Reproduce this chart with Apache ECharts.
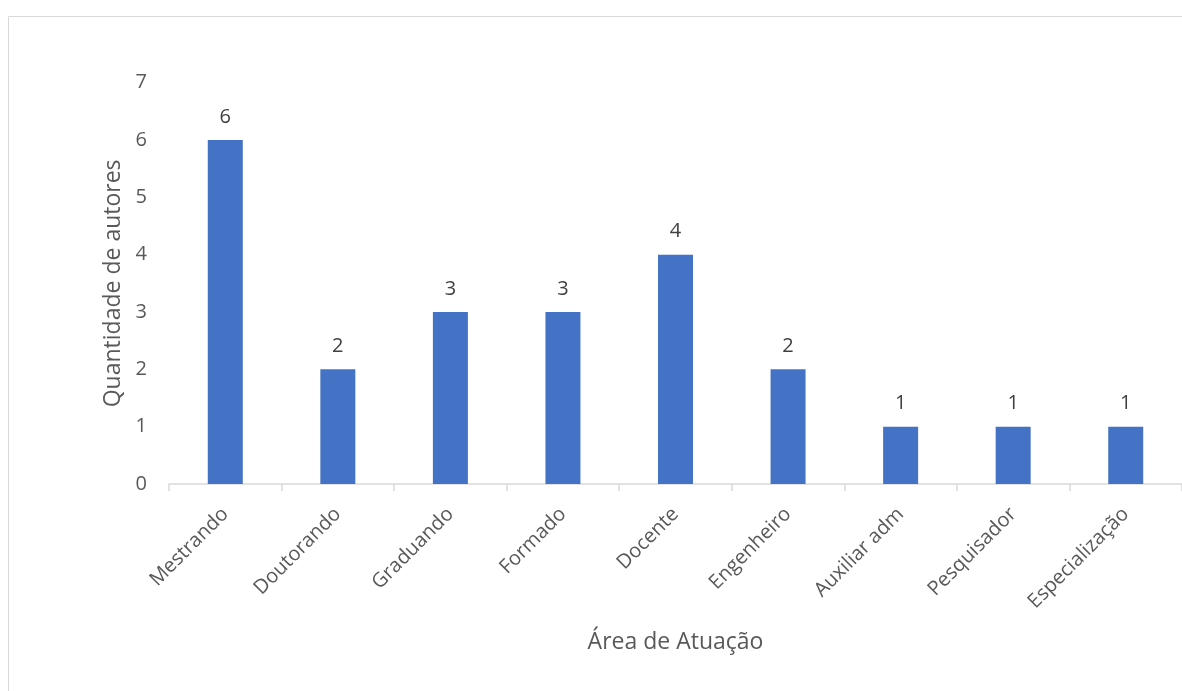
<!DOCTYPE html>
<html><head><meta charset="utf-8">
<script src="https://cdn.jsdelivr.net/npm/echarts@6/dist/echarts.min.js"></script>
<style>html,body{margin:0;padding:0;background:#fff}#c{width:1182px;height:691px}</style>
</head><body><div id="c"></div>
<script>
const categories = ["Mestrando","Doutorando","Graduando","Formado","Docente","Engenheiro","Auxiliar adm","Pesquisador","Especialização"];
const values = [6,2,3,3,4,2,1,1,1];
const yTicks = [0,1,2,3,4,5,6,7];
const xTitle = "Área de Atuação";
const yTitle = "Quantidade de autores";

const chart = echarts.init(document.getElementById('c'), null, {renderer:'canvas'});
const font = '"Open Sans", "Noto Sans", sans-serif';
chart.setOption({
  animation:false,
  backgroundColor:'#fff',
  textStyle:{fontFamily:font},
  graphic:[{type:'rect',shape:{x:8.5,y:16.5,width:1300,height:700},style:{fill:'none',stroke:'#d9d9d9',lineWidth:1},silent:true}],
  grid:{left:169,top:82.7,width:1017,height:401.3,containLabel:false},
  xAxis:{type:'category',data:categories,
    name:xTitle,nameLocation:'middle',nameGap:147,
    nameTextStyle:{color:'#595959',fontSize:23,fontFamily:font},
    axisLine:{lineStyle:{color:'#d9d9d9',width:1.5}},
    axisTick:{show:true,length:7,lineStyle:{color:'#d9d9d9',width:1.5}},
    axisLabel:{rotate:45,color:'#595959',fontSize:20,margin:27,fontFamily:font,interval:0}
  },
  yAxis:{type:'value',min:0,max:7,interval:1,
    name:yTitle,nameLocation:'middle',nameGap:44,nameRotate:90,
    nameTextStyle:{color:'#595959',fontSize:23,fontFamily:font},
    axisLine:{show:false},axisTick:{show:false},splitLine:{show:false},
    axisLabel:{color:'#595959',fontSize:20,margin:22,fontFamily:font,
      formatter:v=>yTicks.includes(v)?String(v):''}
  },
  series:[{type:'bar',data:values,barWidth:35,
    itemStyle:{color:'#4472C4'},
    label:{show:true,position:'top',distance:13,color:'#404040',fontSize:20,fontFamily:font}
  }]
});
</script></body></html>
